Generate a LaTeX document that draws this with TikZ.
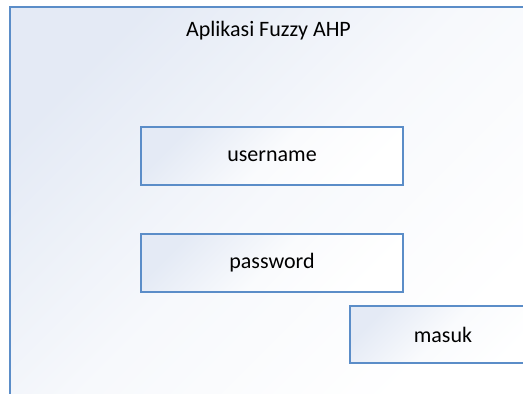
\documentclass[tikz,border=0pt]{standalone}
\usetikzlibrary{shadings}
\usepackage{fontspec}
\setmainfont{Carlito}
\definecolor{edgeblue}{HTML}{5B8DC8}
\definecolor{tint}{HTML}{E4EAF5}
\tikzset{
  fieldbox/.style={draw=edgeblue, line width=1.3pt, minimum width=262pt, minimum height=58pt,
    top color=tint, bottom color=white, middle color=white!80!tint, shading angle=45,
    font=\fontsize{22}{26}\selectfont, inner sep=0pt},
}
\begin{document}
\begin{tikzpicture}[x=1pt,y=-1pt]
\useasboundingbox (0,0) rectangle (523,394);
\fill[white] (0,0) rectangle (523,394);
\begin{scope}
\clip (0,0) rectangle (523,394);
\shade[top color=tint, bottom color=white, middle color=white!70!tint, shading angle=45] (10,7) rectangle (527,400);
\draw[edgeblue, line width=1.5pt] (10,400) -- (10,7) -- (530,7);
\node[fieldbox, minimum width=186pt, minimum height=57pt] (masuk) at (443,334.5) {masuk};
\end{scope}
\node[font=\fontsize{22}{26}\selectfont] (title) at (268.5,31) {Aplikasi Fuzzy AHP};
\node[fieldbox] (user) at (272,156) {username};
\node[fieldbox] (pass) at (272,263) {password};
\end{tikzpicture}
\end{document}
